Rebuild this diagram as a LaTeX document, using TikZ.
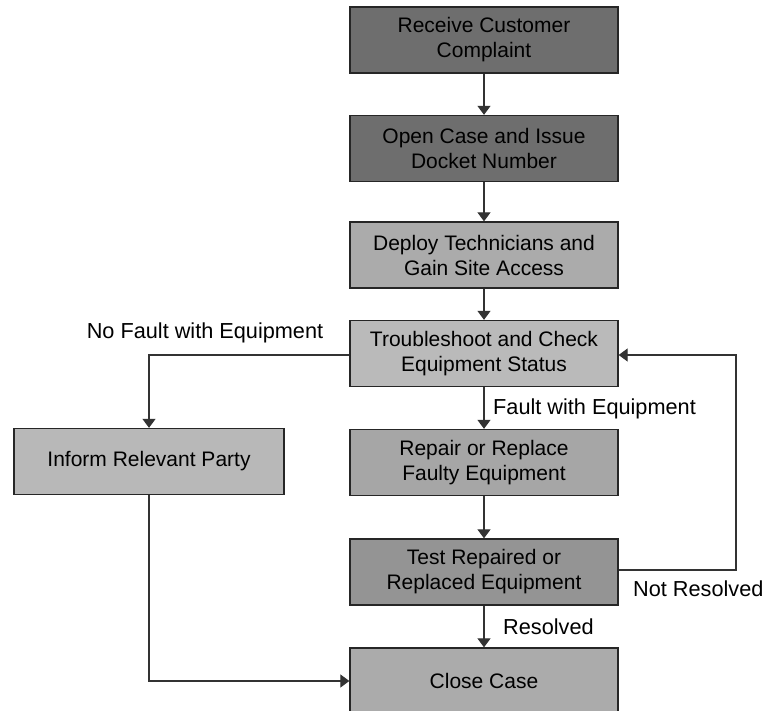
\documentclass[tikz,border=0pt]{standalone}
\usepackage{fontspec}
\setmainfont{Liberation Sans}
\usetikzlibrary{arrows.meta}
\begin{document}
\begin{tikzpicture}[x=1pt,y=-1pt,
  stepbox/.style={draw=black!85,line width=1.3pt,minimum width=268pt,minimum height=66pt,
    align=center,inner sep=0pt,font=\fontsize{21}{25}\selectfont},
  flow/.style={draw=black!80,line width=1.2pt,-{Triangle[width=13pt,length=9pt]}},
  lbl/.style={font=\fontsize{21.7}{25}\selectfont,inner sep=0pt}]
\useasboundingbox (0,0) rectangle (765,711);
\node[stepbox,fill=black!57] (recv) at (484,40) {Receive Customer\\Complaint};
\node[stepbox,fill=black!57] (open) at (484,148.5) {Open Case and Issue\\Docket Number};
\node[stepbox,fill=black!33] (deploy) at (484,255) {Deploy Technicians and\\Gain Site Access};
\node[stepbox,fill=black!27] (trouble) at (484,353.5) {Troubleshoot and Check\\Equipment Status};
\node[stepbox,fill=black!35] (repair) at (484,462.5) {Repair or Replace\\Faulty Equipment};
\node[stepbox,fill=black!42] (test) at (484,572) {Test Repaired or\\Replaced Equipment};
\node[stepbox,fill=black!33] (close) at (484,681) {Close Case};
\node[stepbox,fill=black!28,minimum width=270pt] (inform) at (149,461.5) {Inform Relevant Party};

\coordinate (nfcorner) at (149,355);
\coordinate (loopbot) at (736,570);
\coordinate (looptop) at (736,355);
\coordinate (infcorner) at (149,681);

\draw[flow] (recv) -- (open);
\draw[flow] (open) -- (deploy);
\draw[flow] (deploy) -- (trouble);
\draw[flow] (trouble) -- (repair);
\draw[flow] (repair) -- (test);
\draw[flow] (test) -- (close);
\draw[flow] (trouble.west |- nfcorner) -- (nfcorner) -- (inform.north);
\draw[flow] (test.east |- loopbot) -- (loopbot) -- (looptop) -- (trouble.east |- looptop);
\draw[flow] (inform.south) -- (infcorner) -- (close.west |- infcorner);

\node[lbl] (nofault) at (205,333) {No Fault with Equipment};
\node[lbl,anchor=west] (fault) at (493,409) {Fault with Equipment};
\node[lbl,anchor=west] (resolved) at (503,627) {Resolved};
\node[lbl,anchor=west] (notres) at (633,589) {Not Resolved};
\end{tikzpicture}
\end{document}
